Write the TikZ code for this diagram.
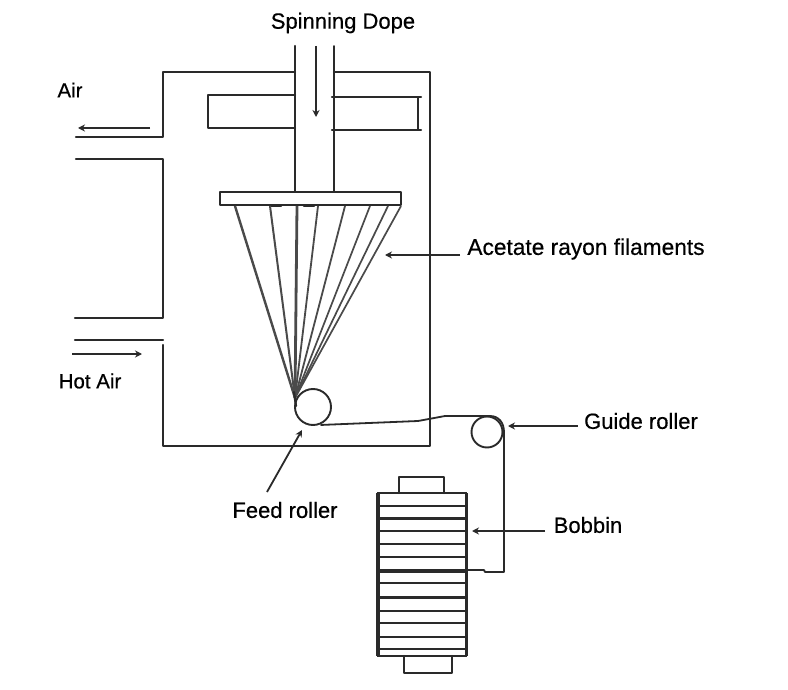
\documentclass[tikz,border=0pt]{standalone}
\usepackage{fontspec}
\setmainfont[FakeBold=0.5]{Liberation Sans}
\usetikzlibrary{arrows.meta}
\definecolor{ink}{HTML}{2A2A2A}
\tikzset{
  wall/.style={draw=ink,line width=2.2pt,line cap=round,line join=round},
  thin wall/.style={draw=ink,line width=1.8pt,line cap=round,line join=round},
  filament/.style={draw=ink!85},
  pointer/.style={draw=ink,line width=1.8pt,-{Stealth[length=7pt,width=7pt]}},
  stripe/.style={draw=ink},
  label/.style={inner sep=0pt,text=black,font=\fontsize{22}{24}\selectfont},
  small label/.style={label,font=\fontsize{20.5}{24}\selectfont},
  wide label/.style={label,font=\fontsize{22.7}{24}\selectfont},
  roller/.style={circle,draw=ink,line width=1.9pt,inner sep=0pt,fill=white}
}
\begin{document}
\begin{tikzpicture}[x=1pt,y=-1pt]
\useasboundingbox[fill=white] (0,0) rectangle (788,690);
% chamber
\draw[wall] (295,72) -- (163,72) -- (163,137) -- (76,137);
\draw[wall] (334,72) -- (430,72) -- (430,446) -- (163,446) -- (163,345);
\draw[wall] (76,159) -- (163,159) -- (163,318) -- (75,318);
\draw[wall] (75,340) -- (163,340);
% dope tube
\draw[wall] (295,46) -- (295,192);
\draw[thin wall] (334,46) -- (334,192);
\draw[wall] (295,95) -- (208,95) -- (208,128) -- (295,128);
\draw[wall] (332,97) -- (421,97);
\draw[wall] (332,130) -- (421,130);
\draw[thin wall] (418,97) -- (418,130);
% spinneret
\draw[wall,fill=white] (220,192) rectangle (401,205);
\draw[wall] (271,206) -- (281,206);
\draw[wall] (304,206) -- (314,206);
% rollers
\node[roller,minimum size=36pt] (feed) at (313,407) {};
\node[roller,minimum size=31pt] (guide) at (487,432) {};
% filaments
\coordinate (conv) at (295,398);
\foreach \x/\w in {235/2.4,270/2.0,297/2.8,318/1.8,345/1.8,370/1.7,388/1.7,401/1.7}
  \draw[filament,line width=\w pt] (\x,206) -- (conv);
\draw[wall] (294,392) -- (296,406);
% yarn
\coordinate (yarnA) at (418,421);
\coordinate (yarnB) at (445,416);
\coordinate (yarnC) at (490,416);
\coordinate (yarnD) at (504,432);
\coordinate (yarnE) at (504,572);
\coordinate (yarnF) at (485,572);
\coordinate (yarnG) at (466,570);
\draw[thin wall] (feed.south) ++(8,-1) -- (yarnA) -- (yarnB) -- (yarnC)
  .. controls (499,416) and (504,423) .. (yarnD) -- (yarnE) -- (yarnF) -- (484,570) -- (yarnG);
% bobbin
\draw[wall] (399,493) -- (399,477) -- (444,477) -- (444,493);
\draw[wall] (404,656) -- (404,673) -- (452,673) -- (452,656);
\draw[draw=ink,line width=2.2pt] (378,493) rectangle (466,656);
\draw[draw=ink,line width=3.4pt] (378,493) -- (378,656);
\draw[draw=ink,line width=3pt] (466,493) -- (466,656);
\foreach \y/\w in {506/2.2,518/3.0,531/2.6,544/2.2,557/2.2,571/3.2,583/2.7,597/3.0,611/2.2,623/2.5,637/2.2,649/2.2}
  \draw[stripe,line width=\w pt] (378,\y) -- (466,\y);
% labels
\node[label] (dope) at (343,23) {Spinning Dope};
\node[small label] (air) at (70,90) {Air};
\node[small label] (hot) at (90,381) {Hot Air};
\node[wide label] (acetate) at (586,249) {Acetate rayon filaments};
\node[label] (guidel) at (641,421) {Guide roller};
\node[label] (feedl) at (285,510) {Feed roller};
\node[label] (bobbinl) at (588,525) {Bobbin};
% pointers
\coordinate (dopeS) at (316,46);
\coordinate (dopeE) at (316,117);
\draw[pointer] (dopeS) -- (dopeE);
\coordinate (airS) at (150,128);
\coordinate (airE) at (78,128);
\draw[pointer] (airS) -- (airE);
\coordinate (hotS) at (72,354);
\coordinate (hotE) at (142,354);
\draw[pointer] (hotS) -- (hotE);
\coordinate (filE) at (385,255);
\draw[pointer] (acetate.west |- filE) ++(-7,0) -- (filE);
\coordinate (guideE) at (508,426);
\draw[pointer] (guidel.west |- guideE) ++(-6,0) -- (guideE);
\coordinate (bobE) at (472,531);
\draw[pointer] (545,531) -- (bobE);
\coordinate (feedE) at (302,430);
\draw[pointer] (267,492) -- (feedE);
\end{tikzpicture}
\end{document}
